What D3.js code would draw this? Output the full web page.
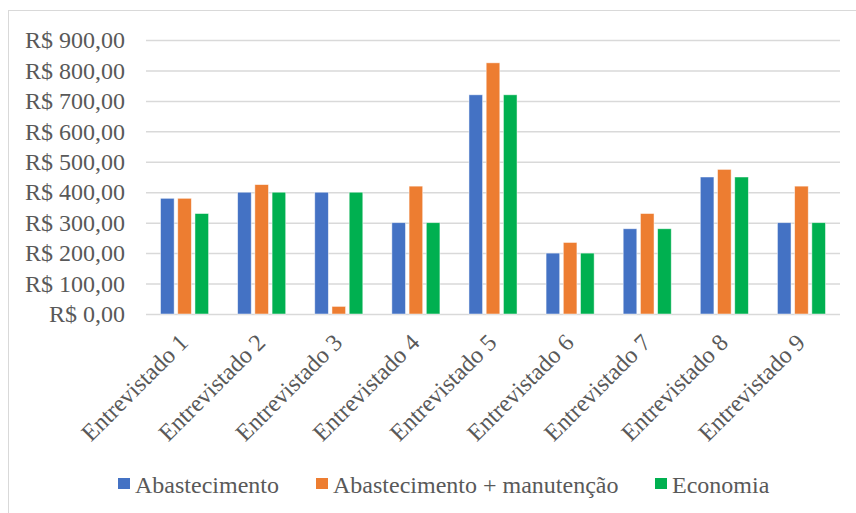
<!DOCTYPE html>
<html>
<head>
<meta charset="utf-8">
<script src="https://cdn.jsdelivr.net/npm/d3@7"></script>
</head>
<body style="margin:0; background:#ffffff">
<svg id="chart" width="856" height="513" style="display:block; font-family:'Liberation Serif'"></svg>
<script>
// Monthly costs per interviewee (R$)
const categories = ["Entrevistado 1", "Entrevistado 2", "Entrevistado 3", "Entrevistado 4",
  "Entrevistado 5", "Entrevistado 6", "Entrevistado 7", "Entrevistado 8", "Entrevistado 9"];
const seriesNames = ["Abastecimento", "Abastecimento + manutenção", "Economia"];
const abastecimento = [380, 400, 400, 300, 720, 200, 280, 450, 300];
const abastecimentoManutencao = [380, 425, 25, 420, 825, 235, 330, 475, 420];
const economia = [330, 400, 400, 300, 720, 200, 280, 450, 300];
const seriesColors = ["#4472C4", "#ED7D31", "#00B050"];
const yTicks = [0, 100, 200, 300, 400, 500, 600, 700, 800, 900];

const seriesValues = [abastecimento, abastecimentoManutencao, economia];
const rows = categories.map((c, i) => ({
  category: c,
  values: seriesNames.map((s, k) => ({ series: s, value: seriesValues[k][i], color: seriesColors[k] }))
}));

const FONT = "Liberation Serif";
const TEXT_COLOR = "#595959";
const FONT_SIZE = "24px";

const svg = d3.select("#chart");
const W = 856, H = 513;
const plot = { left: 146, right: 840, top: 40, bottom: 314 };

// Chart frame
svg.append("rect")
  .attr("x", 8.5).attr("y", 10.5)
  .attr("width", W).attr("height", H)
  .attr("fill", "none").attr("stroke", "#d9d9d9").attr("stroke-width", 1);

const x = d3.scaleBand().domain(categories)
  .range([plot.left, plot.right]).paddingInner(0.33).paddingOuter(0.165);
const xs = d3.scaleBand().domain(seriesNames).range([0, x.bandwidth()]);
const y = d3.scaleLinear().domain([0, 900]).range([plot.bottom, plot.top]);

const ptBR = d3.formatLocale({ decimal: ",", thousands: ".", grouping: [3], currency: ["R$ ", ""] });
const fmt = ptBR.format("$,.2f");

// Value axis with gridlines
const yAxis = d3.axisLeft(y).tickValues(yTicks).tickSize(-(plot.right - plot.left)).tickFormat(fmt).tickPadding(21);
const gy = svg.append("g").attr("transform", `translate(${plot.left},0)`).call(yAxis)
  .attr("font-family", FONT);
gy.select(".domain").remove();
gy.selectAll(".tick line").attr("stroke", "#d9d9d9").attr("stroke-width", 1.5);
gy.selectAll(".tick text")
  .style("font-family", FONT).style("font-size", FONT_SIZE).style("fill", TEXT_COLOR);

// Bars
const groups = svg.append("g").selectAll("g").data(rows).join("g")
  .attr("transform", d => `translate(${x(d.category)},0)`);
const inset = 1.8;
groups.selectAll("rect").data(d => d.values).join("rect")
  .attr("x", d => xs(d.series) + inset)
  .attr("width", xs.bandwidth() - 2 * inset)
  .attr("y", d => y(d.value))
  .attr("height", d => y(0) - y(d.value))
  .attr("fill", d => d.color)
  .attr("stroke", "#ffffff").attr("stroke-opacity", 0.6).attr("stroke-width", 0.8);

// Category axis labels, rotated 45°
const xAxis = d3.axisBottom(x).tickSize(0).tickPadding(0);
const gx = svg.append("g").attr("transform", `translate(0,${plot.bottom})`).call(xAxis)
  .attr("font-family", FONT);
gx.select(".domain").remove();
gx.selectAll(".tick text")
  .style("font-family", FONT).style("font-size", FONT_SIZE).style("fill", TEXT_COLOR)
  .attr("text-anchor", "end")
  .attr("y", 0)
  .attr("transform", "translate(-7,18) rotate(-45)")
  .attr("dy", "0.71em");

// Legend
const legendItems = [
  { name: seriesNames[0], color: seriesColors[0], x: 118 },
  { name: seriesNames[1], color: seriesColors[1], x: 316 },
  { name: seriesNames[2], color: seriesColors[2], x: 655 }
];
const lg = svg.append("g").attr("font-family", FONT);
legendItems.forEach(it => {
  lg.append("rect").attr("x", it.x).attr("y", 478).attr("width", 12).attr("height", 11).attr("fill", it.color);
  lg.append("text").attr("x", it.x + 17).attr("y", 493)
    .style("font-family", FONT).style("font-size", FONT_SIZE).style("fill", TEXT_COLOR)
    .text(it.name);
});
</script>
</body>
</html>
